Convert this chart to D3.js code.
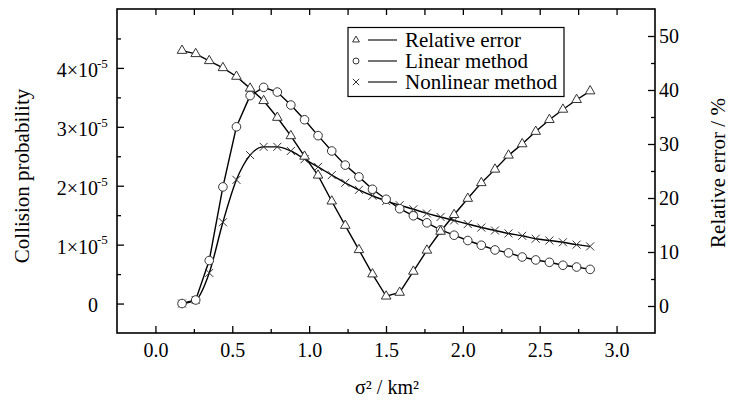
<!DOCTYPE html>
<html>
<head>
<meta charset="utf-8">
<script src="https://cdn.jsdelivr.net/npm/d3@7"></script>
<style>
  body { margin: 0; background: #fff; }
  svg { display: block; }
  svg text { font-family: "Liberation Serif", "DejaVu Serif", serif; }
</style>
</head>
<body>
<svg width="729" height="400"></svg>
<script>
// sigma^2 in km^2 (same x for every series)
var sigma2 = [0.173, 0.262, 0.350, 0.439, 0.527, 0.616, 0.704, 0.793, 0.881, 0.970,
  1.058, 1.147, 1.235, 1.324, 1.412, 1.501, 1.589, 1.678, 1.766, 1.855,
  1.943, 2.032, 2.120, 2.209, 2.297, 2.386, 2.474, 2.563, 2.651, 2.740, 2.828];
// relative error, % (right axis)
var relError = [47.3, 46.7, 45.4, 44.1, 42.5, 40.3, 38.0, 34.9, 31.5, 27.7,
  24.2, 19.4, 14.9, 10.4, 5.9, 1.8, 2.5, 6.4, 10.3, 13.8,
  16.9, 19.9, 22.8, 25.3, 27.9, 30.0, 32.3, 34.5, 36.4, 38.2, 39.8];
// collision probability, in units of 1e-5 (left axis)
var linearProb = [0, 0.06, 0.73, 1.98, 3.00, 3.53, 3.67, 3.59, 3.37, 3.12,
  2.85, 2.59, 2.35, 2.15, 1.94, 1.77, 1.61, 1.49, 1.37, 1.25,
  1.16, 1.07, 0.99, 0.91, 0.86, 0.79, 0.74, 0.70, 0.65, 0.62, 0.58];
var nonlinearProb = [0, 0.06, 0.52, 1.38, 2.10, 2.52, 2.66, 2.66, 2.59, 2.45,
  2.32, 2.18, 2.05, 1.93, 1.83, 1.74, 1.67, 1.60, 1.53, 1.47,
  1.41, 1.35, 1.29, 1.24, 1.19, 1.15, 1.10, 1.07, 1.04, 1.00, 0.97];

var xTicks = [0, 0.5, 1, 1.5, 2, 2.5, 3];
var xMinor = [0.25, 0.75, 1.25, 1.75, 2.25, 2.75];
var yLeftTicks = [0, 1, 2, 3, 4];
var yLeftMinor = [0.5, 1.5, 2.5, 3.5, 4.5];
var yRightTicks = [0, 10, 20, 30, 40, 50];
var yRightMinor = [5, 15, 25, 35, 45];

var legendItems = [
  {name: 'Relative error', sym: 'tri'},
  {name: 'Linear method', sym: 'circ'},
  {name: 'Nonlinear method', sym: 'cross'}
];

var serif = '"Liberation Serif", "DejaVu Serif", serif';

var svg = d3.select('svg');
var margin = {top: 9, right: 74, bottom: 67, left: 117};
var width = 729 - margin.left - margin.right;
var height = 400 - margin.top - margin.bottom;

var x = d3.scaleLinear().domain([-0.25, 3.25]).range([0, width]);
var yL = d3.scaleLinear().domain([-0.5, 5]).range([height, 0]);
var yR = d3.scaleLinear().domain([-5, 55]).range([height, 0]);

var g = svg.append('g')
  .attr('transform', 'translate(' + margin.left + ',' + margin.top + ')');

// axes (ticks pointing inside the frame)
function styleAxis(sel) {
  sel.attr('font-family', serif);
  sel.select('.domain').remove();
  sel.selectAll('line').attr('stroke', '#000').attr('stroke-width', 1.3);
  sel.selectAll('text').attr('font-family', serif).attr('font-size', 20).attr('fill', '#000');
}

g.append('g')
  .attr('transform', 'translate(0,' + height + ')')
  .call(d3.axisBottom(x).tickValues(xTicks).tickSizeInner(-7).tickSizeOuter(0).tickPadding(10)
    .tickFormat(d3.format('.1f')))
  .call(styleAxis);
g.append('g')
  .attr('transform', 'translate(0,' + height + ')')
  .call(d3.axisBottom(x).tickValues(xMinor).tickSizeInner(-4).tickSizeOuter(0).tickFormat(''))
  .call(styleAxis);
g.append('g')
  .call(d3.axisTop(x).tickValues(xTicks.concat(xMinor)).tickSizeInner(-6).tickSizeOuter(0).tickFormat(''))
  .call(styleAxis);

// left axis, labels like 4x10^-5
var leftAxis = g.append('g')
  .call(d3.axisLeft(yL).tickValues(yLeftTicks).tickSizeInner(-7).tickSizeOuter(0).tickPadding(19)
    .tickFormat(function(d) { return d === 0 ? '0' : d + '\u00d710'; }))
  .call(styleAxis);
leftAxis.selectAll('.tick text').attr('dy', '0.42em');
leftAxis.selectAll('.tick').filter(function(d) { return d !== 0; })
  .append('text')
  .attr('x', -20)
  .attr('dy', '-0.05em')
  .attr('font-family', serif)
  .attr('font-size', 13)
  .attr('fill', '#000')
  .attr('text-anchor', 'start')
  .text('-5');
g.append('g')
  .call(d3.axisLeft(yL).tickValues(yLeftMinor).tickSizeInner(-4).tickSizeOuter(0).tickFormat(''))
  .call(styleAxis);

// right axis
g.append('g')
  .attr('transform', 'translate(' + width + ',0)')
  .call(d3.axisRight(yR).tickValues(yRightTicks).tickSizeInner(-7).tickSizeOuter(0).tickPadding(4))
  .call(styleAxis);
g.append('g')
  .attr('transform', 'translate(' + width + ',0)')
  .call(d3.axisRight(yR).tickValues(yRightMinor).tickSizeInner(-4).tickSizeOuter(0).tickFormat(''))
  .call(styleAxis);

// frame
g.append('rect')
  .attr('width', width)
  .attr('height', height)
  .attr('fill', 'none')
  .attr('stroke', '#000')
  .attr('stroke-width', 1.6);

// lines
var relLine = d3.line()
  .x(function(d, i) { return x(sigma2[i]); })
  .y(function(d) { return yR(d); });
var linLine = d3.line()
  .x(function(d, i) { return x(sigma2[i]); })
  .y(function(d) { return yL(d); });
var nonLine = d3.line()
  .curve(d3.curveMonotoneX)
  .x(function(d, i) { return x(sigma2[i]); })
  .y(function(d) { return yL(d); });

g.append('path').datum(nonlinearProb).attr('d', nonLine)
  .attr('fill', 'none').attr('stroke', '#000').attr('stroke-width', 1.4);
g.append('path').datum(linearProb).attr('d', linLine)
  .attr('fill', 'none').attr('stroke', '#000').attr('stroke-width', 1.4);
g.append('path').datum(relError).attr('d', relLine)
  .attr('fill', 'none').attr('stroke', '#000').attr('stroke-width', 1.4);

// markers
var markStroke = '#333';
var tri = d3.symbol().type(d3.symbolTriangle).size(40);

function crossPath(s) {
  return 'M' + (-s) + ',' + (-s) + 'L' + s + ',' + s + 'M' + (-s) + ',' + s + 'L' + s + ',' + (-s);
}

g.append('g').selectAll('path')
  .data(nonlinearProb)
  .enter().append('path')
  .attr('transform', function(d, i) { return 'translate(' + x(sigma2[i]) + ',' + yL(d) + ')'; })
  .attr('d', crossPath(4))
  .attr('stroke', markStroke)
  .attr('stroke-width', 1);

g.append('g').selectAll('circle')
  .data(linearProb)
  .enter().append('circle')
  .attr('cx', function(d, i) { return x(sigma2[i]); })
  .attr('cy', function(d) { return yL(d); })
  .attr('r', 4.3)
  .attr('fill', '#fff')
  .attr('stroke', markStroke)
  .attr('stroke-width', 1);

g.append('g').selectAll('path')
  .data(relError)
  .enter().append('path')
  .attr('transform', function(d, i) { return 'translate(' + x(sigma2[i]) + ',' + yR(d) + ')'; })
  .attr('d', tri)
  .attr('fill', '#fff')
  .attr('stroke', markStroke)
  .attr('stroke-width', 1);

// legend
var legend = svg.append('g').attr('transform', 'translate(348,27.5)');
legend.append('rect')
  .attr('width', 216)
  .attr('height', 69)
  .attr('fill', '#fff')
  .attr('stroke', '#000')
  .attr('stroke-width', 1.2);

var rows = legend.selectAll('.row')
  .data(legendItems)
  .enter().append('g')
  .attr('class', 'row')
  .attr('transform', function(d, i) { return 'translate(0,' + (12.5 + i * 21) + ')'; });

rows.append('line')
  .attr('x1', 20).attr('x2', 49)
  .attr('stroke', '#444').attr('stroke-width', 1.5);

rows.each(function(d) {
  var r = d3.select(this);
  if (d.sym === 'tri') {
    r.append('path').attr('transform', 'translate(8,0)')
      .attr('d', d3.symbol().type(d3.symbolTriangle).size(20))
      .attr('fill', '#fff').attr('stroke', markStroke).attr('stroke-width', 1);
  } else if (d.sym === 'circ') {
    r.append('circle').attr('cx', 8).attr('r', 3)
      .attr('fill', '#fff').attr('stroke', markStroke).attr('stroke-width', 1);
  } else {
    r.append('path').attr('transform', 'translate(8,0)')
      .attr('d', crossPath(3.2))
      .attr('stroke', markStroke).attr('stroke-width', 1);
  }
});

rows.append('text')
  .attr('x', 57)
  .attr('dy', '0.32em')
  .attr('font-family', serif)
  .attr('font-size', 21)
  .text(function(d) { return d.name; });

// axis titles
svg.append('text')
  .attr('transform', 'translate(29,176) rotate(-90)')
  .attr('text-anchor', 'middle')
  .attr('font-family', serif)
  .attr('font-size', 21)
  .text('Collision probability');

svg.append('text')
  .attr('transform', 'translate(725,173) rotate(-90)')
  .attr('text-anchor', 'middle')
  .attr('font-family', serif)
  .attr('font-size', 21)
  .text('Relative error / %');

svg.append('text')
  .attr('x', 387)
  .attr('y', 394)
  .attr('text-anchor', 'middle')
  .attr('font-family', serif)
  .attr('font-size', 20)
  .text('\u03c3\u00b2 / km\u00b2');
</script>
</body>
</html>
